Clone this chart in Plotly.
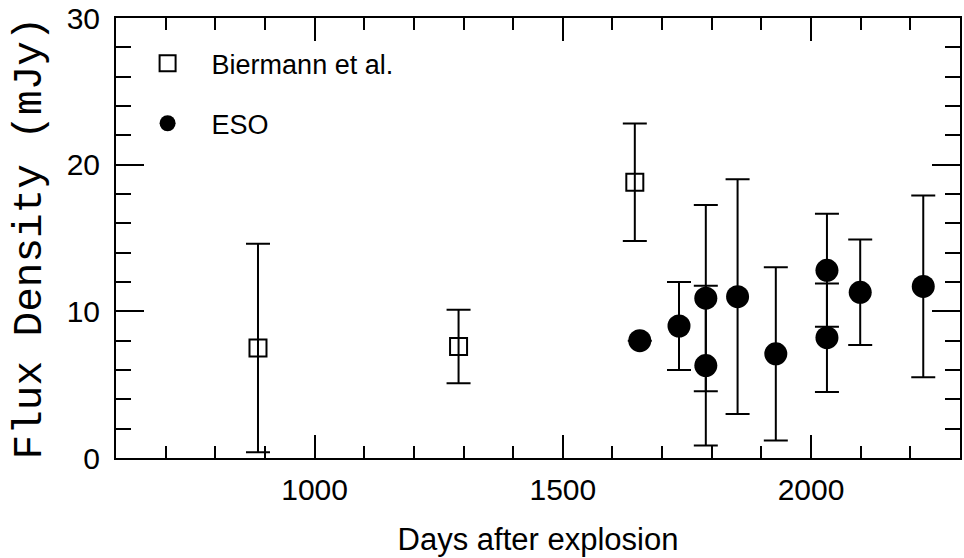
import plotly.graph_objects as go

# Biermann et al. (open squares)
bier_days = [886, 1290, 1645]
bier_flux = [7.5, 7.6, 18.8]
bier_err = [7.1, 2.5, 4.0]

# ESO (filled circles)
eso_days = [1655, 1734, 1788, 1788, 1852, 1929, 2032, 2032, 2099, 2226]
eso_flux = [8.0, 9.0, 10.9, 6.3, 11.0, 7.1, 12.8, 8.2, 11.3, 11.7]
eso_err = [0.0, 3.0, 6.35, 5.45, 8.0, 5.9, 3.85, 3.7, 3.6, 6.2]

x_ticks = [1000, 1500, 2000]
y_ticks = [0, 10, 20, 30]

fig = go.Figure()
fig.add_trace(go.Scatter(
    x=bier_days, y=bier_flux, mode="markers", name="Biermann et al.",
    legendgroup="a",
    marker=dict(symbol="square-open", size=17, color="black", line=dict(width=2)),
    error_y=dict(type="data", array=bier_err, visible=True, color="black",
                 thickness=2, width=12),
))
fig.add_trace(go.Scatter(
    x=eso_days, y=eso_flux, mode="markers", name="ESO",
    legendgroup="b",
    marker=dict(symbol="circle", size=23, color="black"),
    error_y=dict(type="data", array=eso_err, visible=True, color="black",
                 thickness=2, width=12),
))

axis_common = dict(
    showline=True, linecolor="black", linewidth=2, mirror="allticks",
    ticks="inside", tickcolor="black", tickwidth=1.5,
    showgrid=False, zeroline=False, ticklabeloverflow="allow",
    tickfont=dict(family="Liberation Sans, Arial, sans-serif", size=30, color="black"),
)

fig.update_xaxes(
    range=[600, 2300], tickvals=x_ticks, ticklen=23, ticklabelstandoff=4,
    minor=dict(dtick=100, tick0=0, ticks="inside", ticklen=12, tickcolor="black", tickwidth=1.5),
    title=dict(text="Days after explosion",
               font=dict(family="Liberation Sans, Arial, sans-serif", size=31, color="black"),
               standoff=23),
    **axis_common,
)
fig.update_yaxes(
    range=[0, 30], tickvals=y_ticks, ticklen=28, ticklabelstandoff=8,
    minor=dict(dtick=2, tick0=0, ticks="inside", ticklen=15, tickcolor="black", tickwidth=1.5),
    title=dict(text="Flux Density (mJy)",
               font=dict(family="Liberation Mono, Courier New, monospace", size=41, color="black"),
               standoff=12),
    **axis_common,
)

fig.update_layout(
    width=964, height=558,
    margin=dict(l=116, r=4, t=18, b=100, autoexpand=False),
    paper_bgcolor="white", plot_bgcolor="white",
    showlegend=True,
    legend=dict(x=0.009, y=0.952, xanchor="left", yanchor="top",
                font=dict(family="Liberation Sans, Arial, sans-serif", size=27, color="black"),
                itemsizing="trace", itemwidth=78, tracegroupgap=22,
                bgcolor="rgba(0,0,0,0)"),
)

fig.write_html(
    "out.html",
    config={"displayModeBar": False},
    post_script="document.body.style.margin='0';document.body.style.overflow='hidden';",
)
